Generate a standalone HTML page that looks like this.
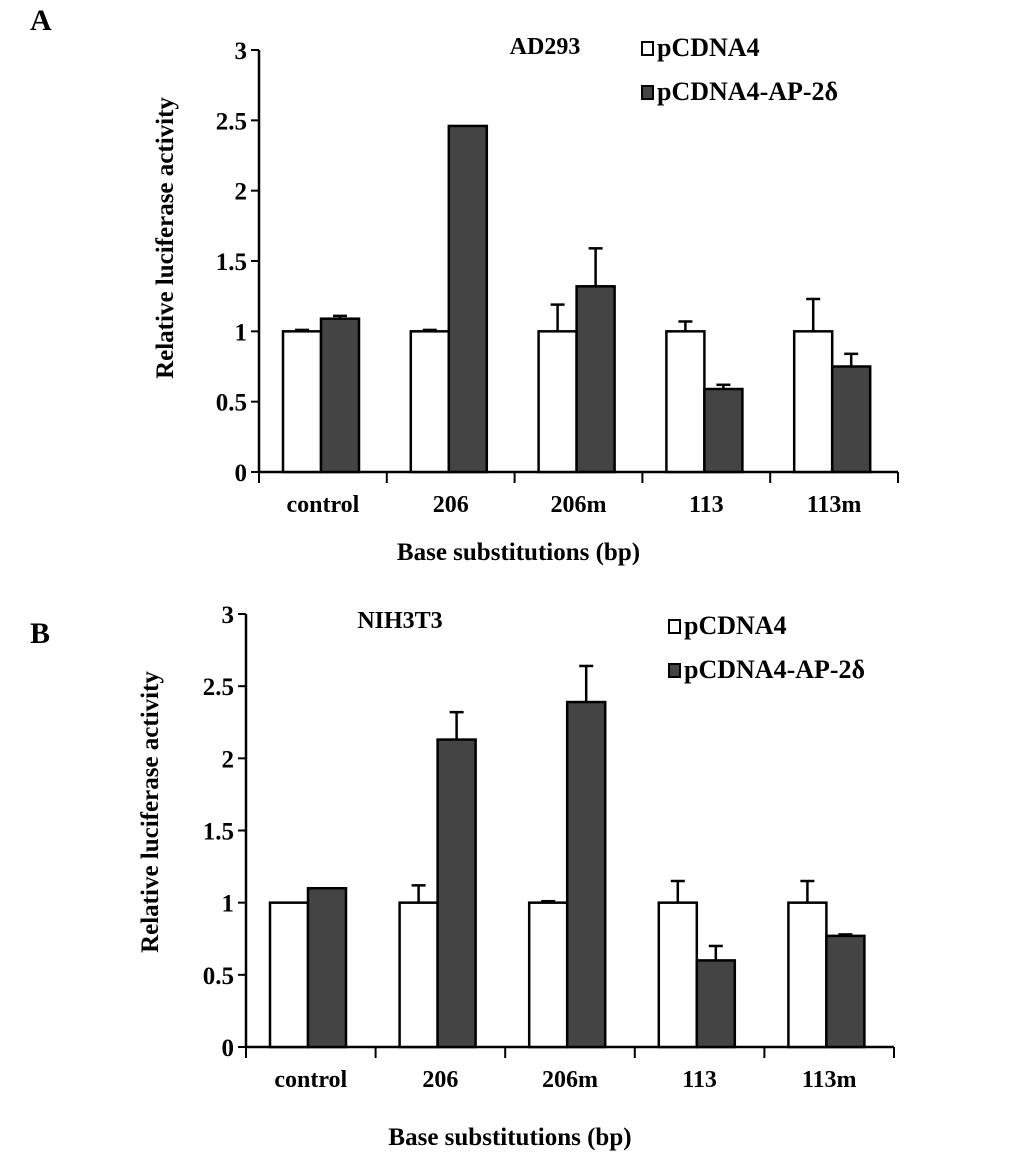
<!DOCTYPE html>
<html><head><meta charset="utf-8"><style>
body{margin:0;background:#fff}
svg{display:block;font-family:"Liberation Serif",serif;font-weight:bold}
</style></head><body>
<svg id="c" width="1033" height="1154"></svg>
<script>
const categories=["control","206","206m","113","113m"];
const yTicks=[0,0.5,1,1.5,2,2.5,3];
const aWhite=[1,1,1,1,1];
const aWhiteErr=[0.01,0.01,0.19,0.07,0.23];
const aDark=[1.09,2.46,1.32,0.59,0.75];
const aDarkErr=[0.02,0,0.27,0.03,0.09];
const bWhite=[1,1,1,1,1];
const bWhiteErr=[0,0.12,0.01,0.15,0.15];
const bDark=[1.1,2.13,2.39,0.6,0.77];
const bDarkErr=[0,0.19,0.25,0.1,0.01];
const NS="http://www.w3.org/2000/svg";
const svg=document.getElementById('c');
function mk(tag,attrs,parent,text){const e=document.createElementNS(NS,tag);for(const k in attrs)e.setAttribute(k,attrs[k]);if(text!==undefined)e.textContent=text;(parent||svg).appendChild(e);return e;}
function panel(p){
  const g=mk('g',{});
  
  
  const y=v=>p.y0-(v/3)*(p.y0-p.y3);
  const gw=(p.xEnd-p.x0)/categories.length;
  const xs=i=>p.x0+i*gw;
  let t=mk('text',{x:p.lx,y:p.ly,'font-size':30},g,p.id);
  
  let a=mk('line',{x1:p.x0,y1:p.y3,x2:p.x0,y2:p.y0,stroke:'#000','stroke-width':2.5},g);
  
  yTicks.forEach(v=>{
    mk('line',{x1:p.x0-8,y1:y(v),x2:p.x0,y2:y(v),stroke:'#000','stroke-width':2},g);
    const tl=mk('text',{x:p.x0-12,y:y(v)+9,'font-size':25,'text-anchor':'end'},g,String(v));
    
  });
  let xa=mk('line',{x1:p.x0,y1:p.y0,x2:p.xEnd,y2:p.y0,stroke:'#000','stroke-width':2.5},g);
  
  for(let i=0;i<=categories.length;i++)mk('line',{x1:xs(i),y1:p.y0,x2:xs(i),y2:p.y0+11,stroke:'#000','stroke-width':2},g);
  categories.forEach((c,i)=>{
    const cl=mk('text',{x:xs(i)+gw/2,y:p.y0+40,'font-size':24,'text-anchor':'middle'},g,c);
    
    const bw=38,wx=xs(i)+24,dx=wx+bw;
    [[wx,p.white[i],p.whiteErr[i],'#fff','white'],[dx,p.dark[i],p.darkErr[i],'#444','dark']].forEach(([bx,v,e,f,n])=>{
      if(e>0){mk('line',{x1:bx+bw/2,y1:y(v),x2:bx+bw/2,y2:y(v+e),stroke:'#000','stroke-width':2.5},g);
      mk('line',{x1:bx+bw/2-7,y1:y(v+e),x2:bx+bw/2+7,y2:y(v+e),stroke:'#000','stroke-width':2.5},g);}
      const r=mk('rect',{x:bx,y:y(v),width:bw,height:p.y0-y(v),fill:f,stroke:'#000','stroke-width':2.5},g);
      
    });
  });
  let tt=mk('text',{x:p.tx,y:p.ty,'font-size':24,'text-anchor':'middle'},g,p.title);
  
  let yt=mk('text',{x:0,y:0,'font-size':25,'text-anchor':'middle',transform:`translate(${p.ytx},${p.yty}) rotate(-90)`},g,'Relative luciferase activity');
  
  let xt=mk('text',{x:(p.x0+p.xEnd)/2-60,y:p.xty,'font-size':25,'text-anchor':'middle'},g,'Base substitutions (bp)');
  
  [['pCDNA4','#fff',p.lg1],['pCDNA4-AP-2δ','#444',p.lg2]].forEach(([lab,f,pos])=>{
    const le=mk('g',{},g);
    
    mk('rect',{x:pos[0]+1,y:pos[1]-14,width:11,height:13,fill:f,stroke:'#000','stroke-width':2},le);
    mk('text',{x:pos[0]+16,y:pos[1],'font-size':26},le,lab);
  });
}
panel({id:'A',lx:30,ly:30,x0:259,xEnd:898,y0:472,y3:50,white:aWhite,whiteErr:aWhiteErr,dark:aDark,darkErr:aDarkErr,title:'AD293',tx:545,ty:54,ytx:173,yty:238,xty:560,lg1:[641,56],lg2:[641,100]});
panel({id:'B',lx:30,ly:643,x0:246,xEnd:894,y0:1047,y3:614,white:bWhite,whiteErr:bWhiteErr,dark:bDark,darkErr:bDarkErr,title:'NIH3T3',tx:400,ty:628,ytx:158,yty:812,xty:1145,lg1:[668,634],lg2:[668,678]});
</script>
</body></html>
